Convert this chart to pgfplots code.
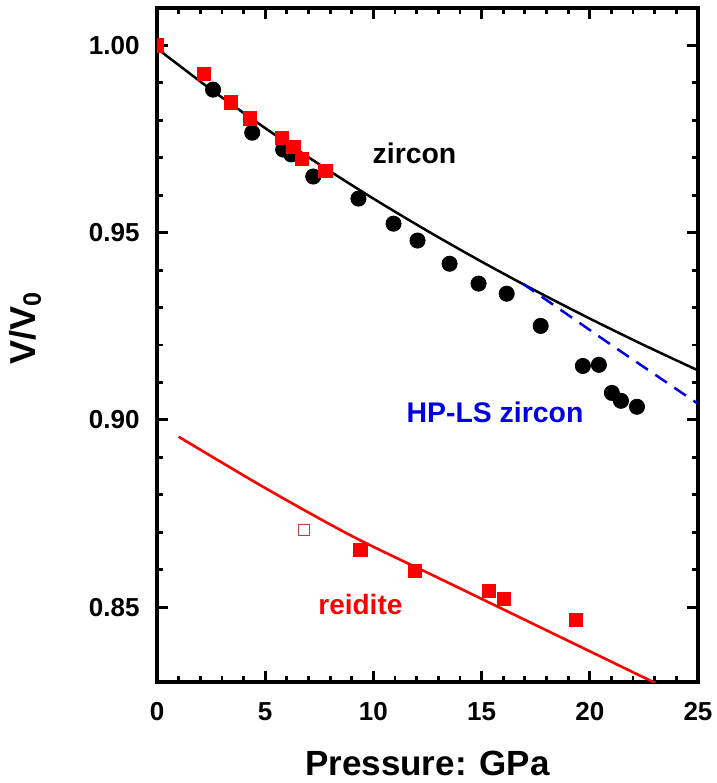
\documentclass[border=0pt]{standalone}
\usepackage{fontspec}
\setmainfont{Liberation Sans}
\usepackage{pgfplots}
\pgfplotsset{compat=1.18}
\definecolor{hpblue}{RGB}{0,0,225}
\definecolor{opred}{RGB}{200,60,60}
\begin{document}
\begin{tikzpicture}
\begin{axis}[
    scale only axis,
    width=270.5pt, height=337pt,
    xmin=0, xmax=25, ymin=0.83, ymax=1.01,
    xtick={0,5,...,25},
    ytick={0.85,0.90,0.95,1.00},
    minor x tick num=4, minor y tick num=4,
    tick align=inside,
    major tick length=5.5pt, minor tick length=3pt,
    axis line style={line width=1.6pt},
    every tick/.style={line width=1.4pt, black},
    /pgf/number format/assume math mode=true,
    ticklabel style={font=\fontsize{13}{13}\selectfont\bfseries, inner sep=0pt},
    xticklabel style={anchor=north, yshift=-10pt},
    yticklabel style={anchor=east, xshift=-8.5pt,
        /pgf/number format/fixed, /pgf/number format/fixed zerofill, /pgf/number format/precision=2},
    xlabel={Pressure: GPa},
    ylabel={V/V\textsubscript{0}},
    xlabel style={font=\fontsize{17.5}{17.5}\selectfont\bfseries, inner sep=0pt,
        at={(axis description cs:0.5,-0.138)}, anchor=base},
    ylabel style={font=\fontsize{18}{18}\selectfont\bfseries, inner sep=0pt,
        at={(axis description cs:-0.225,0.525)}, anchor=base, rotate=0},
    clip marker paths=true,
]
% zircon EOS fit
\addplot[black, line width=1.25pt, smooth] coordinates {
    (0,0.9992) (2.5,0.98822) (5,0.97792) (7.5,0.96824) (10,0.95910)
    (12.5,0.95046) (15,0.94226) (17.5,0.93447) (20,0.92706) (22.5,0.91998) (25,0.91322)
};
% HP-LS zircon
\addplot[hpblue, line width=1.25pt, dash pattern=on 7pt off 4.5pt] coordinates {
    (16.9,0.9364) (21.1,0.9196) (25,0.9043)
};
% reidite fit
\addplot[red, line width=1.3pt, smooth] coordinates {
    (1,0.8955) (5,0.8818) (9,0.8690) (13,0.8578) (17,0.8466) (21,0.8354) (23,0.8298)
};
% zircon data (black)
\addplot[only marks, mark=*, mark size=3.8pt, black] coordinates {
    (2.59,0.9882) (4.40,0.9767) (5.83,0.9722) (6.20,0.9709) (7.22,0.9650)
    (9.31,0.9591) (10.93,0.9524) (12.04,0.9479) (13.52,0.9417) (14.86,0.9364)
    (16.16,0.9337) (17.73,0.9251) (19.68,0.9144) (20.42,0.9147) (21.02,0.9072)
    (21.44,0.9051) (22.18,0.9035)
};
% zircon data (red)
\addplot[only marks, mark=square*, mark size=3.3pt, red] coordinates {
    (0,1.000) (2.18,0.9925) (3.43,0.9848) (4.31,0.9805) (5.79,0.9754)
    (6.30,0.9730) (6.71,0.9698) (7.78,0.9666)
};
% reidite data
\addplot[only marks, mark=square*, mark size=3.3pt, red] coordinates {
    (9.40,0.8652) (11.90,0.8596) (15.32,0.8543) (16.02,0.8521) (19.35,0.8465)
};
\addplot[only marks, mark=square, mark size=2.8pt, opred, mark options={line width=0.5pt}] coordinates {
    (6.81,0.8705)
};
\node[font=\fontsize{14.2}{14.2}\selectfont\bfseries, black, anchor=base, inner sep=0pt] at (axis cs:11.9,0.9684) {zircon};
\node[font=\fontsize{14.2}{14.2}\selectfont\bfseries, hpblue, anchor=base, inner sep=0pt] at (axis cs:15.62,0.8992) {HP-LS zircon};
\node[font=\fontsize{14}{14}\selectfont\bfseries, red, anchor=base, inner sep=0pt] at (axis cs:9.4,0.8481) {reidite};
\coordinate (A) at (rel axis cs:0,0);
\end{axis}
\pgfresetboundingbox
\path ([shift={(-78.5pt,-50.5pt)}]A) rectangle ([shift={(280pt,341pt)}]A);
\end{tikzpicture}
\end{document}
